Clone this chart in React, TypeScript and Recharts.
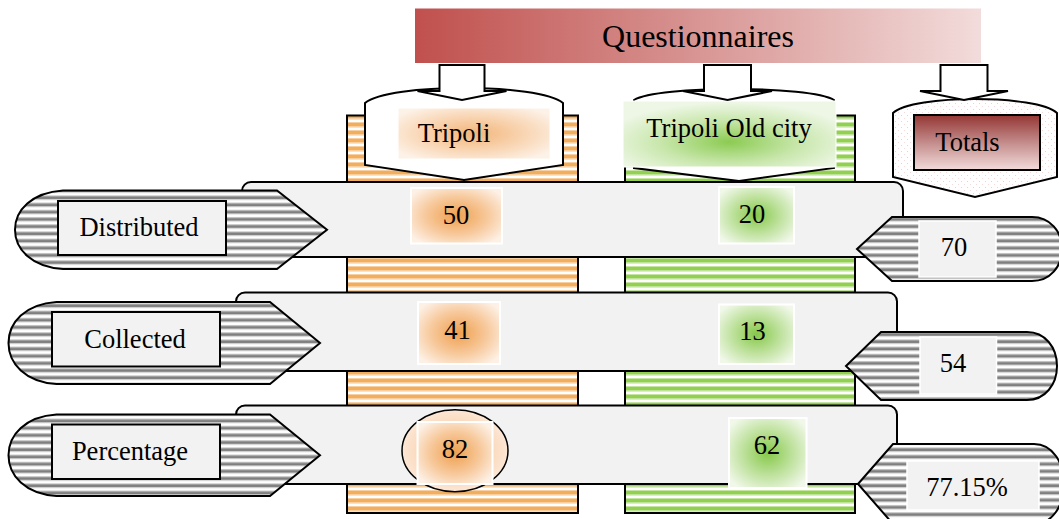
import React from 'react';
import { ComposedChart, Scatter, XAxis, YAxis } from 'recharts';

// ---- data ----
const title = 'Questionnaires';
const columns = ['Tripoli', 'Tripoli Old city', 'Totals'];
const rows = ['Distributed', 'Collected', 'Percentage'];
const tripoliValues = [50, 41, 82];
const oldCityValues = [20, 13, 62];
const totalLabels = ['70', '54', '77.15%'];

// ---- layout, in canvas pixels (the hidden axes map them 1:1) ----
const W = 1059;
const H = 519;
const FONT = '"Liberation Serif", "Times New Roman", serif';
const FS = 26.5;

const TITLE_BAR = { x0: 415, x1: 981, y0: 8.5, y1: 63, tx: 698, ty: 47 };

const STRIPES = [
  { x0: 347, x1: 578, y0: 115.5, y1: 513, fill: 'url(#orangeStripes)' },
  { x0: 625, x1: 855, y0: 115.5, y1: 513, fill: 'url(#greenStripes)' },
];

const HEADERS = [
  { x0: 365, x1: 563, top: 103, peak: 88, side: 165, tipX: 464, tip: 180, fill: '#fff' },
  { x0: 634, x1: 834, top: 100, peak: 89, side: 168, tipX: 739, tip: 181, fill: '#fff' },
  { x0: 893, x1: 1057, top: 113, peak: 99, side: 177, tipX: 975, tip: 197, fill: 'url(#pinkDots)' },
];

const HEADER_BOXES = [
  { x0: 398, x1: 550, y0: 108, y1: 159, tx: 454, ty: 141.5, fill: 'url(#orangeSoft)', stroke: '#fff', sw: 1 },
  { x0: 623, x1: 836, y0: 101, y1: 167, tx: 729, ty: 137, fill: 'url(#greenSoft)', stroke: '#fff', sw: 1 },
  { x0: 914, x1: 1040, y0: 115, y1: 170, tx: 967.5, ty: 151, fill: 'url(#totalsGrad)', stroke: '#000', sw: 2 },
];

const ARROWS = [
  { cx: 462, shaft: 22.5, head: 44.5 },
  { cx: 727.5, shaft: 23.5, head: 44.5 },
  { cx: 964, shaft: 23.5, head: 44 },
];
const ARROW_Y = { top: 65, neck: 91, tip: 100 };

const BANNERS = [
  { x0: 242, x1: 903, y0: 182, y1: 257 },
  { x0: 236, x1: 897, y0: 292.5, y1: 371 },
  { x0: 236, x1: 897, y0: 405.5, y1: 484 },
];

const LEFT_TAGS = [
  { x0: 15, x1: 327, y0: 190.5, y1: 269, bx0: 58, bx1: 226, by0: 201, by1: 255, tx: 139, ty: 236 },
  { x0: 8.5, x1: 320, y0: 302, y1: 384, bx0: 52, bx1: 220, by0: 312, by1: 366.5, tx: 135, ty: 348 },
  { x0: 8.5, x1: 320, y0: 414.5, y1: 496, bx0: 52, bx1: 220, by0: 424.5, by1: 479, tx: 130, ty: 460 },
];

const RIGHT_TAGS = [
  { x0: 857, x1: 1062, y0: 217, y1: 281, bx0: 919, bx1: 996, by0: 221, by1: 277, tx: 954, ty: 256 },
  { x0: 846, x1: 1057, y0: 332, y1: 400, bx0: 920, bx1: 996.5, by0: 337, by1: 394, tx: 953, ty: 372 },
  { x0: 858, x1: 1064, y0: 444, y1: 524, bx0: 907, bx1: 1039, by0: 461, by1: 510, tx: 967, ty: 496 },
];

const TRIPOLI_CELLS = [
  { x0: 411, x1: 502, y0: 188, y1: 243.5, tx: 456, ty: 224 },
  { x0: 418, x1: 500, y0: 302, y1: 364, tx: 457.5, ty: 338.5 },
  { x0: 417.5, x1: 492.5, y0: 422, y1: 484, tx: 455, ty: 458, ellipse: { cx: 455, cy: 450.7, rx: 53, ry: 41 } },
];

const OLD_CITY_CELLS = [
  { x0: 719, x1: 794, y0: 187, y1: 243.5, tx: 752, ty: 222.5 },
  { x0: 719, x1: 794, y0: 304.5, y1: 364, tx: 752.5, ty: 340 },
  { x0: 729, x1: 806.5, y0: 418, y1: 488, tx: 767, ty: 454 },
];

const LEFT_SLOPE = 50;
const LEFT_BULGE = 48;
const RIGHT_SLOPE = 35;
const RIGHT_BULGE = 30;

// every mark is a scatter point anchored at the centre of its box;
// the shape is shifted by whatever the scales did to that anchor
const anchored = (g: any, extra: any = {}) => ({
  x: (g.x0 + g.x1) / 2,
  y: (g.y0 + g.y1) / 2,
  g,
  ...extra,
});

const shift = (props: any) => `translate(${props.cx - props.payload.x},${props.cy - props.payload.y})`;

const Txt = ({ x, y, children, size = FS }: any) => (
  <text x={x} y={y} textAnchor="middle" fontFamily={FONT} fontSize={size} fill="#000">
    {children}
  </text>
);

const titleData = [anchored(TITLE_BAR, { label: title })];
const stripeData = STRIPES.map((s, i) => anchored(s, { label: columns[i] }));
const headerData = HEADERS.map((h, i) => anchored({ ...h, y0: h.peak, y1: h.tip }, { label: columns[i] }));
const headerBoxData = HEADER_BOXES.map((b, i) => anchored(b, { label: columns[i] }));
const arrowData = ARROWS.map((a, i) =>
  anchored({ ...a, x0: a.cx, x1: a.cx, y0: ARROW_Y.top, y1: ARROW_Y.tip }, { label: columns[i] })
);
const bannerData = BANNERS.map((b, i) => anchored(b, { label: rows[i] }));
const leftTagData = LEFT_TAGS.map((t, i) => anchored(t, { label: rows[i] }));
const rightTagData = RIGHT_TAGS.map((t, i) => anchored(t, { label: totalLabels[i] }));
const tripoliData = TRIPOLI_CELLS.map((c, i) => anchored(c, { label: String(tripoliValues[i]), tone: 'orange' }));
const oldCityData = OLD_CITY_CELLS.map((c, i) => anchored(c, { label: String(oldCityValues[i]), tone: 'green' }));

const TitleShape = (p: any) => {
  const g = p.payload.g;
  return (
    <g transform={shift(p)}>
      <rect x={g.x0} y={g.y0} width={g.x1 - g.x0} height={g.y1 - g.y0} fill="url(#titleGrad)" />
      <Txt x={g.tx} y={g.ty} size={32}>{p.payload.label}</Txt>
    </g>
  );
};

const StripeShape = (p: any) => {
  const g = p.payload.g;
  return (
    <g transform={shift(p)}>
      <rect x={g.x0} y={g.y0} width={g.x1 - g.x0} height={g.y1 - g.y0} fill={g.fill} stroke="#000" strokeWidth={2} />
    </g>
  );
};

const HeaderShape = (p: any) => {
  const g = p.payload.g;
  const w = g.x1 - g.x0;
  const c = (8 * g.peak - 2 * g.top) / 6;
  const d = `M${g.x0},${g.top} C${g.x0 + 0.12 * w},${c} ${g.x1 - 0.12 * w},${c} ${g.x1},${g.top} L${g.x1},${g.side} L${g.tipX},${g.tip} L${g.x0},${g.side} Z`;
  return (
    <g transform={shift(p)}>
      <path d={d} fill={g.fill} stroke="#000" strokeWidth={2} />
    </g>
  );
};

const HeaderBoxShape = (p: any) => {
  const g = p.payload.g;
  return (
    <g transform={shift(p)}>
      <rect x={g.x0} y={g.y0} width={g.x1 - g.x0} height={g.y1 - g.y0} fill={g.fill} stroke={g.stroke} strokeWidth={g.sw} />
      <Txt x={g.tx} y={g.ty}>{p.payload.label}</Txt>
    </g>
  );
};

const ArrowShape = (p: any) => {
  const g = p.payload.g;
  const { top, neck, tip } = ARROW_Y;
  const d = `M${g.cx - g.shaft},${top} L${g.cx + g.shaft},${top} L${g.cx + g.shaft},${neck} L${g.cx + g.head},${neck} L${g.cx},${tip} L${g.cx - g.head},${neck} L${g.cx - g.shaft},${neck} Z`;
  return (
    <g transform={shift(p)}>
      <path d={d} fill="#fff" stroke="#000" strokeWidth={2} strokeLinejoin="miter" />
    </g>
  );
};

const BannerShape = (p: any) => {
  const g = p.payload.g;
  return (
    <g transform={shift(p)}>
      <rect x={g.x0} y={g.y0} width={g.x1 - g.x0} height={g.y1 - g.y0} rx={9} ry={9} fill="#F2F2F2" stroke="#000" strokeWidth={2} />
    </g>
  );
};

const LeftTagShape = (p: any) => {
  const g = p.payload.g;
  const cy = (g.y0 + g.y1) / 2;
  const hh = (g.y1 - g.y0) / 2;
  const k = LEFT_BULGE;
  const d =
    `M${g.x0 + k},${g.y0} L${g.x1 - LEFT_SLOPE},${g.y0} L${g.x1},${cy} L${g.x1 - LEFT_SLOPE},${g.y1} L${g.x0 + k},${g.y1} ` +
    `C${g.x0 + k * 0.35},${g.y1 - 2} ${g.x0},${cy + hh * 0.5} ${g.x0},${cy} ` +
    `C${g.x0},${cy - hh * 0.5} ${g.x0 + k * 0.35},${g.y0 + 2} ${g.x0 + k},${g.y0} Z`;
  return (
    <g transform={shift(p)}>
      <path d={d} fill="url(#grayStripes)" stroke="#000" strokeWidth={2} />
      <rect x={g.bx0} y={g.by0} width={g.bx1 - g.bx0} height={g.by1 - g.by0} fill="#F2F2F2" stroke="#000" strokeWidth={2} />
      <Txt x={g.tx} y={g.ty}>{p.payload.label}</Txt>
    </g>
  );
};

const RightTagShape = (p: any) => {
  const g = p.payload.g;
  const cy = (g.y0 + g.y1) / 2;
  const hh = (g.y1 - g.y0) / 2;
  const k = RIGHT_BULGE;
  const d =
    `M${g.x0},${cy} L${g.x0 + RIGHT_SLOPE},${g.y0} L${g.x1 - k},${g.y0} ` +
    `C${g.x1 - k * 0.4},${g.y0} ${g.x1},${cy - hh * 0.55} ${g.x1},${cy} ` +
    `C${g.x1},${cy + hh * 0.55} ${g.x1 - k * 0.4},${g.y1} ${g.x1 - k},${g.y1} L${g.x0 + RIGHT_SLOPE},${g.y1} Z`;
  return (
    <g transform={shift(p)}>
      <path d={d} fill="url(#grayStripes)" stroke="#000" strokeWidth={2} />
      <rect x={g.bx0} y={g.by0} width={g.bx1 - g.bx0} height={g.by1 - g.by0} fill="#F2F2F2" stroke="#fff" strokeWidth={1.5} />
      <Txt x={g.tx} y={g.ty}>{p.payload.label}</Txt>
    </g>
  );
};

const CellShape = (p: any) => {
  const g = p.payload.g;
  const fill = p.payload.tone === 'orange' ? 'url(#orangeBox)' : 'url(#greenBox)';
  return (
    <g transform={shift(p)}>
      {g.ellipse && (
        <ellipse cx={g.ellipse.cx} cy={g.ellipse.cy} rx={g.ellipse.rx} ry={g.ellipse.ry} fill="url(#ellipseFill)" stroke="#000" strokeWidth={1.5} />
      )}
      <rect x={g.x0} y={g.y0} width={g.x1 - g.x0} height={g.y1 - g.y0} fill={fill} stroke="#fff" strokeWidth={2} />
      <Txt x={g.tx} y={g.ty}>{p.payload.label}</Txt>
    </g>
  );
};

const Defs = () => (
  <svg width={0} height={0} style={{ position: 'absolute' }}>
    <defs>
      <linearGradient id="titleGrad" x1="0" y1="0" x2="1" y2="0">
        <stop offset="0" stopColor="#C0504D" />
        <stop offset="0.45" stopColor="#D58E8C" />
        <stop offset="1" stopColor="#F2DCDB" />
      </linearGradient>
      <linearGradient id="totalsGrad" x1="0" y1="0" x2="0" y2="1">
        <stop offset="0" stopColor="#943634" />
        <stop offset="0.5" stopColor="#C38C8B" />
        <stop offset="1" stopColor="#F2DCDB" />
      </linearGradient>
      <radialGradient id="orangeBox" cx="0.5" cy="0.5" r="0.62">
        <stop offset="0" stopColor="#EFA04F" />
        <stop offset="0.55" stopColor="#F7C99C" />
        <stop offset="1" stopColor="#FDF1E6" />
      </radialGradient>
      <radialGradient id="orangeSoft" cx="0.5" cy="0.5" r="0.62">
        <stop offset="0" stopColor="#F3B57A" />
        <stop offset="0.6" stopColor="#F9D9BA" />
        <stop offset="1" stopColor="#FDF2E8" />
      </radialGradient>
      <radialGradient id="greenBox" cx="0.5" cy="0.5" r="0.62">
        <stop offset="0" stopColor="#86C84A" />
        <stop offset="0.55" stopColor="#C2E3A2" />
        <stop offset="1" stopColor="#F1F8EA" />
      </radialGradient>
      <radialGradient id="greenSoft" cx="0.5" cy="0.62" r="0.6">
        <stop offset="0" stopColor="#8CCB52" />
        <stop offset="0.55" stopColor="#C9E7AD" />
        <stop offset="1" stopColor="#EEF7E6" />
      </radialGradient>
      <radialGradient id="ellipseFill" cx="0.5" cy="0.5" r="0.55">
        <stop offset="0" stopColor="#F5BC85" />
        <stop offset="1" stopColor="#FDEBDD" />
      </radialGradient>
      <pattern id="orangeStripes" patternUnits="userSpaceOnUse" width={8} height={8}>
        <rect width={8} height={8} fill="#fff" />
        <rect y={2} width={8} height={1} fill="#F8CFA0" />
        <rect y={3} width={8} height={3.6} fill="#F3AE5C" />
        <rect y={6.6} width={8} height={1} fill="#F8CFA0" />
      </pattern>
      <pattern id="greenStripes" patternUnits="userSpaceOnUse" width={8} height={8}>
        <rect width={8} height={8} fill="#fff" />
        <rect y={2} width={8} height={1} fill="#C3E5A0" />
        <rect y={3} width={8} height={3.6} fill="#92D050" />
        <rect y={6.6} width={8} height={1} fill="#C3E5A0" />
      </pattern>
      <pattern id="grayStripes" patternUnits="userSpaceOnUse" width={8} height={7.2}>
        <rect width={8} height={7.2} fill="#fff" />
        <rect y={1} width={8} height={1} fill="#C4C4C4" />
        <rect y={2} width={8} height={2.6} fill="#7F7F7F" />
        <rect y={4.6} width={8} height={1} fill="#C4C4C4" />
      </pattern>
      <pattern id="pinkDots" patternUnits="userSpaceOnUse" width={6} height={6}>
        <rect width={6} height={6} fill="#fff" />
        <rect x={1} y={1} width={1} height={1} fill="#EFCFCE" />
        <rect x={4} y={4} width={1} height={1} fill="#F3DCDB" />
      </pattern>
    </defs>
  </svg>
);

export default function App() {
  return (
    <div style={{ position: 'absolute', left: 0, top: 0, width: W, height: H, background: '#fff' }}>
      <Defs />
      <ComposedChart width={W} height={H} margin={{ top: 0, right: 0, bottom: 0, left: 0 }}>
        <XAxis type="number" dataKey="x" domain={[0, W]} allowDataOverflow hide />
        <YAxis type="number" dataKey="y" domain={[0, H]} allowDataOverflow reversed hide />
        <Scatter data={titleData} shape={TitleShape} isAnimationActive={false} />
        <Scatter data={stripeData} shape={StripeShape} isAnimationActive={false} />
        <Scatter data={headerData} shape={HeaderShape} isAnimationActive={false} />
        <Scatter data={headerBoxData} shape={HeaderBoxShape} isAnimationActive={false} />
        <Scatter data={arrowData} shape={ArrowShape} isAnimationActive={false} />
        <Scatter data={bannerData} shape={BannerShape} isAnimationActive={false} />
        <Scatter data={leftTagData} shape={LeftTagShape} isAnimationActive={false} />
        <Scatter data={rightTagData} shape={RightTagShape} isAnimationActive={false} />
        <Scatter data={tripoliData} shape={CellShape} isAnimationActive={false} />
        <Scatter data={oldCityData} shape={CellShape} isAnimationActive={false} />
      </ComposedChart>
    </div>
  );
}
